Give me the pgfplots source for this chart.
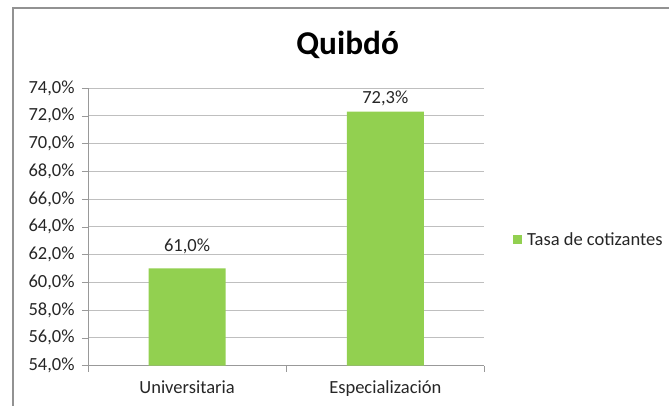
\documentclass[border=0pt]{standalone}
\usepackage{fontspec}
\setmainfont{Carlito}
\usepackage{pgfplots}
\pgfplotsset{compat=1.18}
\definecolor{bargreen}{HTML}{92D050}
\definecolor{gridgray}{HTML}{BFBFBF}
\definecolor{axgray}{HTML}{868686}
\begin{document}
\begin{tikzpicture}
\path (0,0) rectangle (502.5pt,304.5pt);
\draw[color=axgray!90, line width=1.1pt] (9.75pt,0) -- (9.75pt,298.5pt) -- (502.5pt,298.5pt);
\node[font=\fontsize{25}{30}\selectfont\bfseries] at (261pt,270.75pt) {Quibdó};
\begin{axis}[
    at={(66pt,30pt)}, anchor=south west,
    scale only axis,
    width=297.75pt, height=208.5pt,
    ybar, bar width=57.75pt,
    xmin=-0.5, xmax=1.5,
    ymin=54, ymax=74,
    ytick={54,56,...,74},
    xtick={0,1},
    xticklabels={Universitaria,Especialización},
    minor xtick={-0.5,0.5,1.5},
    major x tick style={draw=none},
    minor x tick style={draw=gridgray!80!black},
    y tick style={draw=gridgray!80!black},
    tick align=outside,
    major tick length=4.5pt, minor tick length=4.5pt,
    ymajorgrids, grid style={draw=gridgray, line width=0.6pt},
    axis line style={draw=gridgray!80!black, line width=0.6pt},
    axis x line*=bottom, axis y line*=left,
    /pgf/number format/assume math mode=true,
    yticklabel={\pgfmathprintnumber[fixed,fixed zerofill,precision=1,use comma]{\tick}\%},
    ticklabel style={font=\fontsize{13.9}{16}\selectfont, text=black!85},
    yticklabel style={xshift=-2pt},
    xticklabel style={yshift=-3pt},
    visualization depends on={value \thisrow{lift} \as \lift},
    nodes near coords={\pgfmathprintnumber[fixed,fixed zerofill,precision=1,use comma,assume math mode=true]{\pgfplotspointmeta}\%},
    nodes near coords style={font=\fontsize{13.9}{16}\selectfont, text=black!85, yshift=\lift pt},
    legend style={at={(1.0705,0.453)}, anchor=west, draw=none, fill=none,
        font=\fontsize{13.9}{16}\selectfont, text=black!85, inner sep=0pt},
    legend image code/.code={\fill[#1] (0pt,-3.4pt) rectangle (6.8pt,3.4pt);},
]
\addplot[fill=bargreen, draw=none] table[x=x, y=y] {
x y lift
0 61.0 7.5
1 72.3 1
};
\legend{\hspace{2pt}Tasa de cotizantes}
\end{axis}
\end{tikzpicture}
\end{document}
